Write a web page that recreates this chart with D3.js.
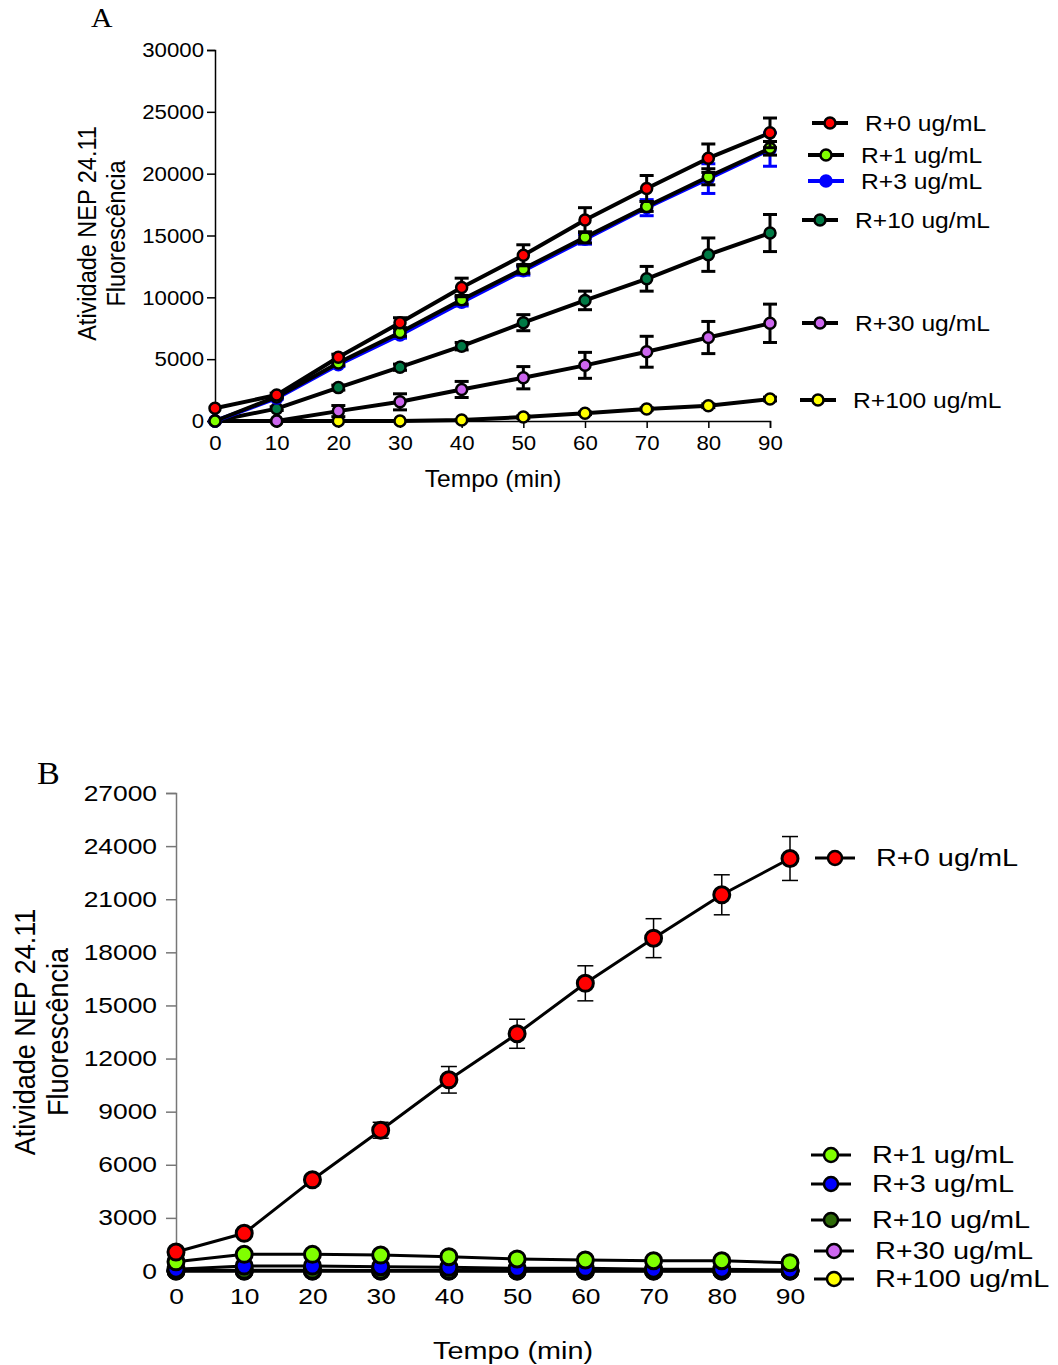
<!DOCTYPE html>
<html>
<head>
<meta charset="utf-8">
<script src="https://cdn.jsdelivr.net/npm/d3@7"></script>
<style>
  body { margin: 0; background: #fff; }
  text { font-family: "Liberation Sans", Arial, sans-serif; fill: #000; }
</style>
</head>
<body>
<script>
// ---- data ----
const times = [0, 10, 20, 30, 40, 50, 60, 70, 80, 90];
const labels = ["R+0 ug/mL", "R+1 ug/mL", "R+3 ug/mL", "R+10 ug/mL", "R+30 ug/mL", "R+100 ug/mL"];

// panel A (mean, SEM)
const aR0 = [1025, 2100, 5150, 7950, 10800, 13400, 16250, 18800, 21250, 23300];
const aR0err = [0, 150, 250, 400, 750, 850, 1000, 1050, 1150, 1200];
const aR1 = [0, 1950, 4700, 7150, 9800, 12300, 14850, 17350, 19750, 22050];
const aR1err = [0, 100, 200, 300, 350, 350, 450, 400, 650, 550];
const aR3 = [0, 1850, 4550, 6950, 9600, 12150, 14700, 17250, 19600, 21950];
const aR3err = [0, 100, 150, 250, 300, 350, 400, 650, 1200, 1350];
const aR10 = [0, 1000, 2700, 4350, 6050, 7950, 9750, 11500, 13450, 15200];
const aR10err = [0, 150, 200, 250, 300, 650, 750, 1000, 1350, 1500];
const aR30 = [0, 0, 800, 1550, 2550, 3500, 4500, 5600, 6750, 7900];
const aR30err = [0, 50, 450, 650, 650, 900, 1050, 1250, 1300, 1550];
const aR100 = [0, 0, 0, 0, 80, 320, 620, 970, 1230, 1780];
const aR100err = [0, 0, 0, 0, 50, 100, 100, 100, 150, 150];
const aTicksY = [0, 5000, 10000, 15000, 20000, 25000, 30000];

// panel B
const bR0 = [1070, 2130, 5150, 7950, 10800, 13400, 16250, 18800, 21250, 23300];
const bR0err = [0, 150, 250, 450, 750, 820, 990, 1100, 1130, 1240];
const bR1 = [520, 940, 940, 900, 810, 680, 620, 580, 580, 470];
const bR3 = [100, 280, 280, 245, 210, 150, 150, 100, 100, 55];
const bR10 = [30, 40, 40, 30, 30, 20, 20, 20, 20, 10];
const bR30 = [0, 0, 0, 0, 0, 0, 0, 0, 0, 0];
const bR100 = [0, 0, 0, 0, 0, 0, 0, 0, 0, 0];
const bTicksY = [0, 3000, 6000, 9000, 12000, 15000, 18000, 21000, 24000, 27000];

const colorsA = ["#ff0000", "#80ff00", "#0000ff", "#007a45", "#cc66ee", "#ffff00"];
const colorsB = ["#ff0000", "#80ff00", "#0000ff", "#2e6b08", "#cc66ee", "#ffff00"];

const svg = d3.select("body").append("svg")
  .attr("width", 1058)
  .attr("height", 1365);

// text that is a bit wider than the font (the original figure is stretched sideways)
function wideText(parent, x, y, sx, size, str, extra) {
  return parent.append("text")
    .attr("transform", "translate(" + x + "," + y + ") scale(" + sx + ",1)" + (extra || ""))
    .style("font-size", size + "px")
    .text(str);
}

function drawPanel(p) {
  const x = d3.scaleLinear().domain([0, 90]).range([p.x0, p.x1]);
  const y = d3.scaleLinear().domain(p.yDomain).range([p.y0, p.y1]);
  const g = svg.append("g");

  // y axis
  const yAx = g.append("g")
    .attr("transform", "translate(" + p.x0 + ",0)")
    .call(d3.axisLeft(y).tickValues(p.ticksY).tickSize(p.tickLen).tickFormat(d3.format("d")));
  yAx.selectAll("path,line").attr("stroke", p.axisColor).attr("stroke-width", p.axisW);
  yAx.selectAll("text")
    .attr("x", -(p.tickLen + p.yPad) / p.sx)
    .attr("transform", "scale(" + p.sx + ",1)")
    .style("font-size", p.tickFont + "px")
    .style("font-family", "Liberation Sans, Arial");

  // x axis
  const xAx = g.append("g")
    .attr("transform", "translate(0," + p.y0 + ")")
    .call(d3.axisBottom(x).tickValues(times).tickSize(p.xTickLen).tickPadding(p.xPad));
  xAx.selectAll("path,line").attr("stroke", p.axisColor).attr("stroke-width", p.axisW);
  if (!p.xLine) xAx.select(".domain").remove();
  xAx.selectAll("text")
    .attr("transform", "scale(" + p.sx + ",1)")
    .style("font-size", p.tickFont + "px")
    .style("font-family", "Liberation Sans, Arial");

  // series, drawn bottom-up so R+0 ends on top
  for (let i = p.series.length - 1; i >= 0; i--) {
    const s = p.series[i];
    const lineCol = s.lineColor || "#000";
    const pts = times.map((t, k) => ({ t: t, v: s.values[k], e: s.err ? s.err[k] : 0 }));

    g.append("path")
      .datum(pts)
      .attr("fill", "none")
      .attr("stroke", lineCol)
      .attr("stroke-width", p.lineW)
      .attr("stroke-linejoin", "round")
      .attr("d", d3.line().x(d => x(d.t)).y(d => y(d.v)));

    const eb = g.append("g").selectAll("g")
      .data(pts.filter(d => d.e > 0))
      .enter().append("g")
      .attr("stroke", lineCol)
      .attr("stroke-width", p.errW);
    eb.append("line")
      .attr("x1", d => x(d.t)).attr("x2", d => x(d.t))
      .attr("y1", d => y(d.v + d.e)).attr("y2", d => y(d.v - d.e));
    eb.append("line")
      .attr("x1", d => x(d.t) - p.cap).attr("x2", d => x(d.t) + p.cap)
      .attr("y1", d => y(d.v + d.e)).attr("y2", d => y(d.v + d.e));
    eb.append("line")
      .attr("x1", d => x(d.t) - p.cap).attr("x2", d => x(d.t) + p.cap)
      .attr("y1", d => y(d.v - d.e)).attr("y2", d => y(d.v - d.e));

    g.append("g").selectAll("circle")
      .data(pts)
      .enter().append("circle")
      .attr("cx", d => x(d.t))
      .attr("cy", d => y(d.v))
      .attr("r", p.r)
      .attr("fill", s.color)
      .attr("stroke", lineCol)
      .attr("stroke-width", p.markW);
  }

  // legend
  p.series.forEach((s, i) => {
    const lg = g.append("g").attr("transform", "translate(" + p.legendX[i] + "," + p.legendY[i] + ")");
    lg.append("line").attr("x1", 0).attr("x2", p.legLineW)
      .attr("stroke", s.lineColor || "#000").attr("stroke-width", p.legStroke);
    lg.append("circle").attr("cx", p.legLineW / 2).attr("r", p.legR)
      .attr("fill", s.color).attr("stroke", s.lineColor || "#000").attr("stroke-width", p.legMarkW);
    wideText(lg, p.legLineW + p.legGap, 0, p.legSx, p.legFont, s.label).attr("dy", "0.35em");
  });

  // axis titles
  wideText(g, p.xTitleX, p.xTitleY, p.titleSx, p.titleFont, "Tempo (min)")
    .attr("text-anchor", "middle");
  const yc = (p.y0 + p.y1) / 2 + p.yTitleShift;
  wideText(g, p.yTitleX[0], yc, p.yTitleSx, p.yTitleFont, "Atividade NEP 24.11", " rotate(-90)")
    .attr("text-anchor", "middle");
  wideText(g, p.yTitleX[1], yc, p.yTitleSx, p.yTitleFont, "Fluorescência", " rotate(-90)")
    .attr("text-anchor", "middle");

  wideText(g, p.letterX, p.letterY, 1.1, p.letterFont, p.letter)
    .style("font-family", "Liberation Serif, Times New Roman, serif");
}

drawPanel({
  letter: "A", letterX: 91, letterY: 27, letterFont: 27,
  x0: 215, x1: 770, y0: 421, y1: 50, yDomain: [0, 30000], ticksY: aTicksY,
  axisColor: "#000", axisW: 1.5, tickLen: 8, yPad: 3, xTickLen: 7, xPad: 7, xLine: true,
  sx: 1.06, tickFont: 21, titleFont: 23, titleSx: 1.07, yTitleFont: 23.5, yTitleSx: 1.07,
  legFont: 22, legSx: 1.12,
  xTitleX: 493, xTitleY: 487, yTitleX: [96, 125], yTitleShift: -2,
  lineW: 4, errW: 3, cap: 7, r: 5.5, markW: 2.5,
  legendX: [812, 808, 808, 802, 802, 800], legendY: [123, 155, 181, 220, 323, 400],
  legLineW: 36, legGap: 17, legR: 5.5, legStroke: 4, legMarkW: 2.5,
  series: [
    { label: labels[0], values: aR0, err: aR0err, color: colorsA[0] },
    { label: labels[1], values: aR1, err: aR1err, color: colorsA[1] },
    { label: labels[2], values: aR3, err: aR3err, color: colorsA[2], lineColor: colorsA[2] },
    { label: labels[3], values: aR10, err: aR10err, color: colorsA[3] },
    { label: labels[4], values: aR30, err: aR30err, color: colorsA[4] },
    { label: labels[5], values: aR100, err: aR100err, color: colorsA[5] }
  ]
});

drawPanel({
  letter: "B", letterX: 37, letterY: 784, letterFont: 31,
  x0: 176, x1: 790, y0: 1271, y1: 793, yDomain: [0, 27000], ticksY: bTicksY,
  axisColor: "#777", axisW: 1.5, tickLen: 10, yPad: 9, xTickLen: 0, xPad: 17, xLine: false,
  sx: 1.2, tickFont: 22, titleFont: 24, titleSx: 1.2, yTitleFont: 27, yTitleSx: 1.12,
  legFont: 23.5, legSx: 1.23,
  xTitleX: 513, xTitleY: 1359, yTitleX: [35, 68], yTitleShift: 0,
  lineW: 3, errW: 1.5, cap: 8, r: 8, markW: 3,
  legendX: [815, 811, 811, 811, 814, 814], legendY: [858, 1155, 1184, 1220, 1251, 1279],
  legLineW: 40, legGap: 21, legR: 7, legStroke: 3, legMarkW: 2.5,
  series: [
    { label: labels[0], values: bR0, err: bR0err, color: colorsB[0] },
    { label: labels[1], values: bR1, color: colorsB[1] },
    { label: labels[2], values: bR3, color: colorsB[2] },
    { label: labels[3], values: bR10, color: colorsB[3] },
    { label: labels[4], values: bR30, color: colorsB[4] },
    { label: labels[5], values: bR100, color: colorsB[5] }
  ]
});
</script>
</body>
</html>
